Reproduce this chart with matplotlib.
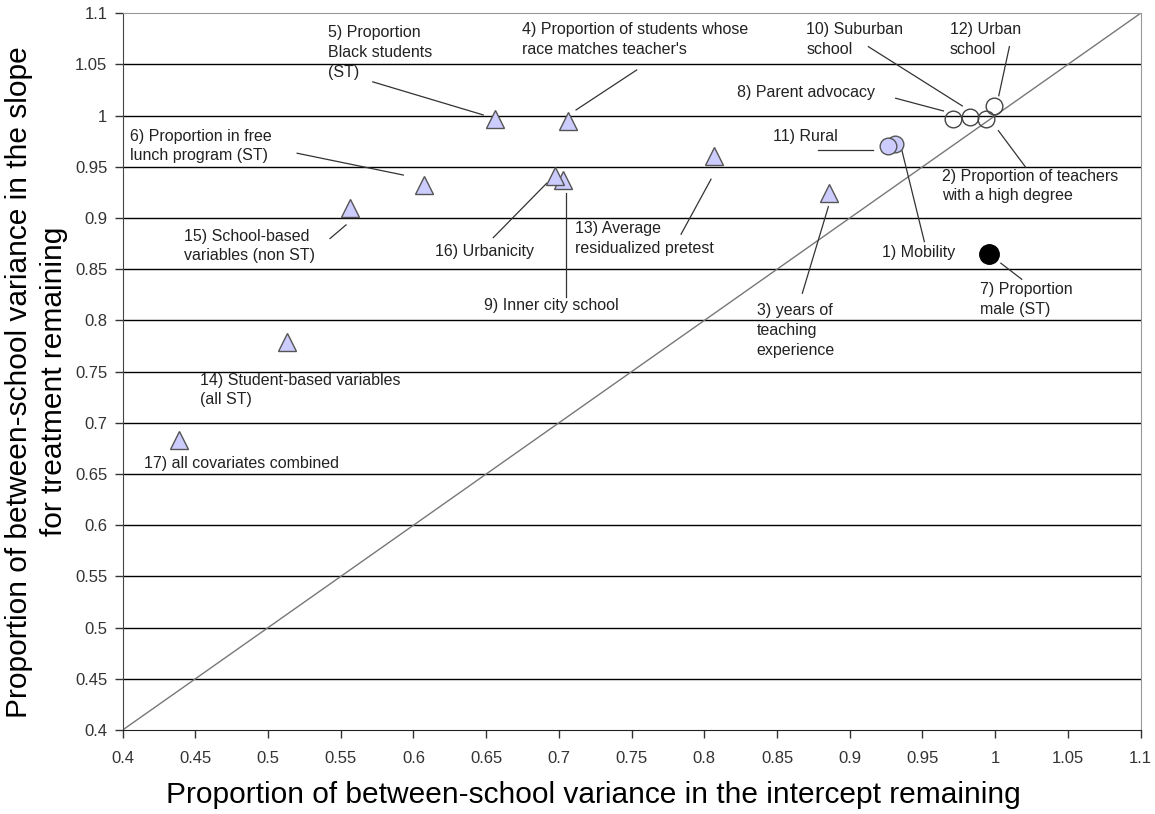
import matplotlib.pyplot as plt
import numpy as np

plt.rcParams['font.family'] = ['Liberation Sans', 'DejaVu Sans']

# covariate number, label, intercept share remaining, slope share remaining
labels = ["1) Mobility",
          "2) Proportion of teachers\nwith a high degree",
          "3) years of\nteaching\nexperience",
          "4) Proportion of students whose\nrace matches teacher's",
          "5) Proportion\nBlack students\n(ST)",
          "6) Proportion in free\nlunch program (ST)",
          "7) Proportion\nmale (ST)",
          "8) Parent advocacy",
          "9) Inner city school",
          "10) Suburban\nschool",
          "11) Rural",
          "12) Urban\nschool",
          "13) Average\nresidualized pretest",
          "14) Student-based variables\n(all ST)",
          "15) School-based\nvariables (non ST)",
          "16) Urbanicity",
          "17) all covariates combined"]
intercept = [0.931, 0.994, 0.886, 0.706, 0.656, 0.607, 0.996, 0.971, 0.703,
             0.983, 0.926, 0.999, 0.807, 0.513, 0.556, 0.697, 0.4387]
slope = [0.972, 0.997, 0.924, 0.995, 0.997, 0.932, 0.865, 0.997, 0.937,
         0.999, 0.970, 1.0095, 0.961, 0.779, 0.910, 0.941, 0.683]
kind = ['shaded', 'open', 'tri', 'tri', 'tri', 'tri', 'black', 'open', 'tri',
        'open', 'shaded', 'open', 'tri', 'tri', 'tri', 'tri', 'tri']

# where each label sits (left, top) and its leader line
label_pos = [(0.922, 0.8734), (0.9633, 0.9482), (0.836, 0.8171), (0.6744, 1.0915),
             (0.5414, 1.0883), (0.405, 0.9873), (0.9896, 0.8376), (0.8223, 1.0297),
             (0.6487, 0.8223), (0.870, 1.0915), (0.847, 0.9873), (0.969, 1.0915),
             (0.7111, 0.8972), (0.4532, 0.749), (0.4424, 0.8897), (0.6148, 0.875),
             (0.4146, 0.6674)]
leaders = [((0.9358, 0.9665), (0.9513, 0.877)),
           ((1.0022, 0.9854), (1.021, 0.9496)),
           ((0.8853, 0.9111), (0.8674, 0.8266)),
           ((0.7535, 1.0446), (0.7118, 1.0056)),
           ((0.572, 1.033), (0.648, 1.0007)),
           ((0.520, 0.9633), (0.593, 0.942)),
           ((1.0039, 0.8559), (1.0183, 0.8402)),
           ((0.9316, 1.017), (0.9644, 1.0046)),
           ((0.7047, 0.9242), (0.7047, 0.8232)),
           ((0.9128, 1.0674), (0.9774, 1.0095)),
           ((0.8784, 0.9665), (0.9162, 0.9665)),
           ((1.0098, 1.0674), (1.0025, 1.0195)),
           ((0.784, 0.8842), (0.8046, 0.9379)),
           None,
           ((0.5426, 0.880), (0.5536, 0.8933)),
           ((0.6549, 0.8809), (0.6916, 0.934)),
           None]

styles = {
    'tri': dict(marker='^', ms=13.5, mfc='#CCCCFF', mec='#555555', mew=1.0),
    'open': dict(marker='o', ms=12, mfc='none', mec='#444444', mew=1.0),
    'shaded': dict(marker='o', ms=12, mfc='#CCCCFF', mec='#555555', mew=1.0),
    'black': dict(marker='o', ms=14, mfc='black', mec='black', mew=1.0),
}

fig = plt.figure(figsize=(11.55, 8.14), dpi=100)
ax = fig.add_axes([0.1062, 0.1032, 0.8813, 0.8805])

ax.set_xlim(0.4, 1.1)
ax.set_ylim(0.4, 1.1)
ticks = np.round(np.arange(0.4, 1.1001, 0.05), 2)
ax.set_xticks(ticks)
ax.set_yticks(ticks)
ax.set_xticklabels(['%g' % t for t in ticks])
ax.set_yticklabels(['%g' % t for t in ticks])

# horizontal gridlines and the 45 degree reference line
for t in ticks[1:-1]:
    ax.axhline(t, color='black', lw=1.0, zorder=1)
ax.plot([0.4, 1.1], [0.4, 1.1], color='#777777', lw=1.0, zorder=2)

for i in range(len(labels)):
    ax.plot(intercept[i], slope[i], ls='none', zorder=4, **styles[kind[i]])
    ax.text(label_pos[i][0], label_pos[i][1], labels[i], fontsize=11.5,
            color='#222222', ha='left', va='top', linespacing=1.4, zorder=5)
    if leaders[i] is not None:
        (x1, y1), (x2, y2) = leaders[i]
        ax.plot([x1, x2], [y1, y2], color='#333333', lw=0.9, zorder=3)

for side in ['top', 'right']:
    ax.spines[side].set_color('#999999')
ax.spines['left'].set_color('#444444')
ax.spines['bottom'].set_color('#222222')
ax.tick_params(axis='both', direction='out', length=6, width=1,
               labelsize=12, labelcolor='#333333', color='#333333')
ax.tick_params(axis='x', pad=9)
ax.tick_params(axis='y', pad=5)

ax.set_xlabel('Proportion of between-school variance in the intercept remaining',
              fontsize=21.5)
ax.xaxis.set_label_coords(0.462, -0.071)
ax.set_ylabel('Proportion of between-school variance in the slope\nfor treatment remaining',
              fontsize=21.5, linespacing=1.3)
ax.yaxis.set_label_coords(-0.054, 0.486)

fig.savefig('out.png', dpi=100)
